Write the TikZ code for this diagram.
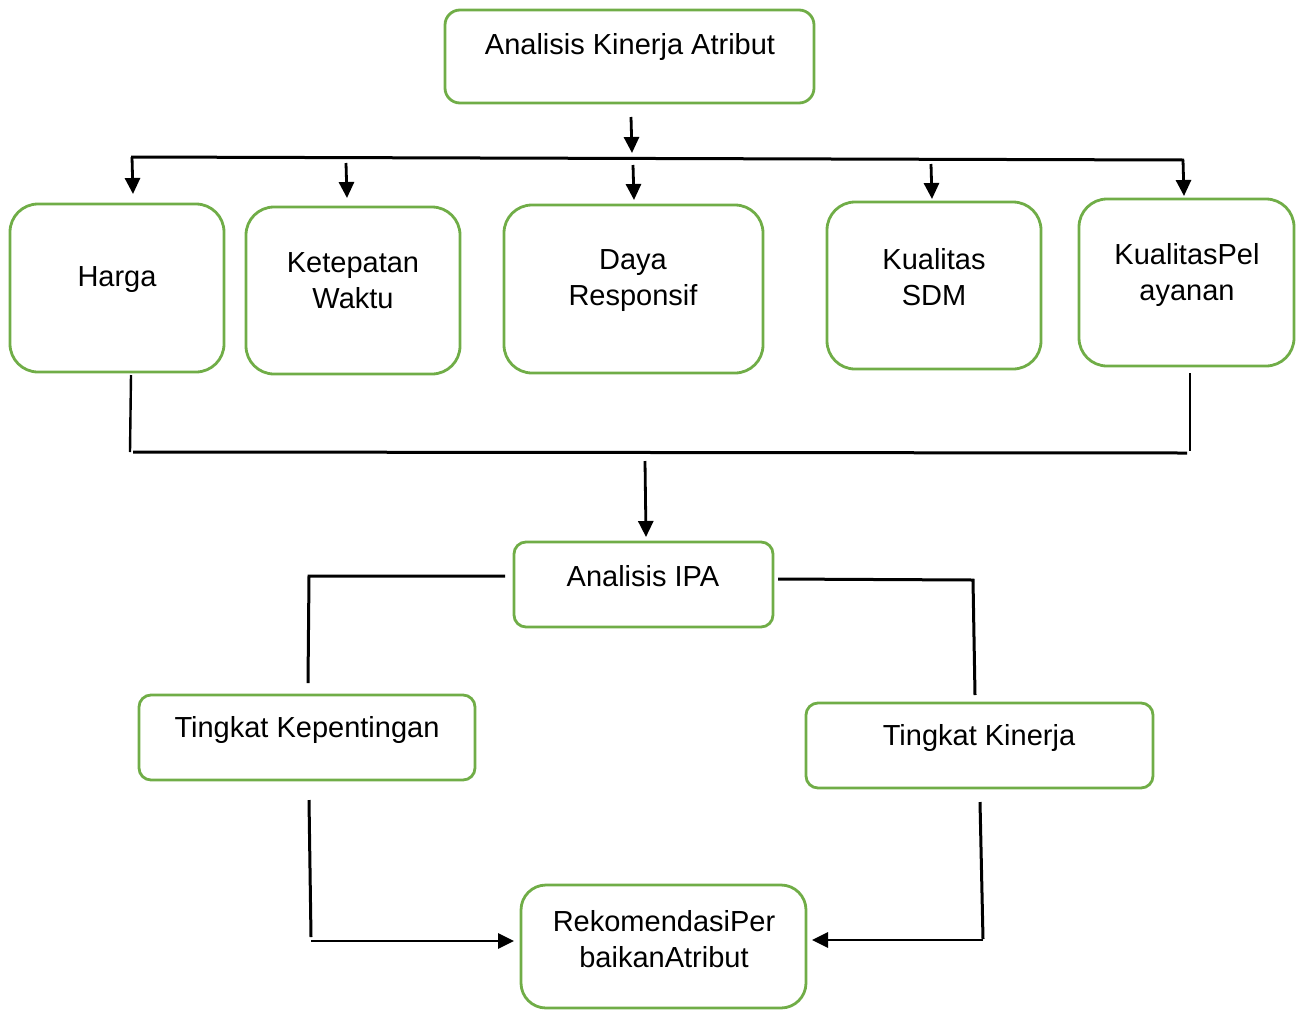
\documentclass[tikz,border=0pt]{standalone}
\usepackage{fontspec}
\setmainfont{Liberation Sans}
\usetikzlibrary{arrows.meta}
\definecolor{boxgreen}{RGB}{112,173,71}
\begin{document}
\begin{tikzpicture}[x=1pt,y=-1pt,
  box/.style={draw=boxgreen, line width=2.8pt, rounded corners=#1, inner sep=0pt},
  txt/.style={font=\fontsize{29}{36}\selectfont, align=center, inner sep=0pt},
  conn/.style={draw=black, line width=3pt},
  thin/.style={draw=black, line width=2.4pt},
  arr/.style={draw=black, line width=2.8pt, -{Triangle[length=16pt,width=15pt]}}]
\useasboundingbox (0,0) rectangle (1298,1010);

% boxes
\node[box=15pt, minimum width=369pt, minimum height=93pt] (top) at (629.5,56.5) {};
\node[box=28pt, minimum width=214pt, minimum height=168pt] (harga) at (117,288) {};
\node[box=28pt, minimum width=214pt, minimum height=167pt] (ketep) at (353,290.5) {};
\node[box=28pt, minimum width=259pt, minimum height=168pt] (daya) at (633.5,289) {};
\node[box=28pt, minimum width=214pt, minimum height=167pt] (sdm) at (934,285.5) {};
\node[box=28pt, minimum width=215pt, minimum height=167pt] (pel) at (1186.5,282.5) {};
\node[box=12pt, minimum width=259pt, minimum height=85pt] (ipa) at (643.5,584.5) {};
\node[box=12pt, minimum width=336pt, minimum height=85pt] (kep) at (307,737.5) {};
\node[box=12pt, minimum width=347pt, minimum height=85pt] (kin) at (979.5,745.5) {};
\node[box=25pt, minimum width=285pt, minimum height=123pt] (rek) at (663.5,946.5) {};

% texts
\node[txt] (ttop) at (630,47) {Analisis Kinerja Atribut};
\node[txt] (tharga) at (117,280) {Harga};
\node[txt] (tketep) at (353,281) {Ketepatan\\Waktu};
\node[txt] (tdaya) at (633,281) {Daya\\Responsif};
\node[txt] (tsdm) at (934,277) {Kualitas\\SDM};
\node[txt] (tpel) at (1187,275) {KualitasPel\\ayanan};
\node[txt] (tipa) at (643,576) {Analisis IPA};
\node[txt] (tkep) at (307,730) {Tingkat Kepentingan};
\node[txt] (tkin) at (979,738) {Tingkat Kinerja};
\node[txt] (trek) at (664,939) {RekomendasiPer\\baikanAtribut};

% coordinates
\coordinate (a0s) at (631,117);  \coordinate (a0e) at (632,153);
\coordinate (busL) at (131,157); \coordinate (busR) at (1184,160);
\coordinate (a1s) at (132,157);  \coordinate (a1e) at (133,194);
\coordinate (a2s) at (346,163);  \coordinate (a2e) at (347,198);
\coordinate (a3s) at (633,165);  \coordinate (a3e) at (634,200);
\coordinate (a4s) at (931,164);  \coordinate (a4e) at (932,199);
\coordinate (a5s) at (1183,160); \coordinate (a5e) at (1184,196);

\coordinate (l1s) at (131,375);  \coordinate (l1e) at (130,452);
\coordinate (bus2L) at (133,452); \coordinate (bus2R) at (1187,453);
\coordinate (l2s) at (1190,373); \coordinate (l2e) at (1190,451);
\coordinate (a6s) at (645,461);  \coordinate (a6e) at (646,537);

\coordinate (p1) at (505,576); \coordinate (p2) at (309,576); \coordinate (p3) at (308,683);
\coordinate (q1) at (778,579); \coordinate (q2) at (973,580); \coordinate (q3) at (975,695);

\coordinate (r1) at (309,800); \coordinate (r2) at (311,937);
\coordinate (r3) at (311,941); \coordinate (r4) at (514,941);
\coordinate (s1) at (980,802); \coordinate (s2) at (983,939);
\coordinate (s3) at (983,940); \coordinate (s4) at (812,940);

% connectors
\draw[arr] (a0s) -- (a0e);
\draw[conn] (busL) -- (busR);
\draw[arr] (a1s) -- (a1e);
\draw[arr] (a2s) -- (a2e);
\draw[arr] (a3s) -- (a3e);
\draw[arr] (a4s) -- (a4e);
\draw[arr] (a5s) -- (a5e);

\draw[thin] (l1s) -- (l1e);
\draw[conn] (bus2L) -- (bus2R);
\draw[thin] (l2s) -- (l2e);
\draw[arr] (a6s) -- (a6e);

\draw[conn] (p1) -- (p2) -- (p3);
\draw[conn] (q1) -- (q2) -- (q3);

\draw[conn] (r1) -- (r2);
\draw[arr] (r3) -- (r4);
\draw[conn] (s1) -- (s2);
\draw[arr] (s3) -- (s4);
\end{tikzpicture}
\end{document}
